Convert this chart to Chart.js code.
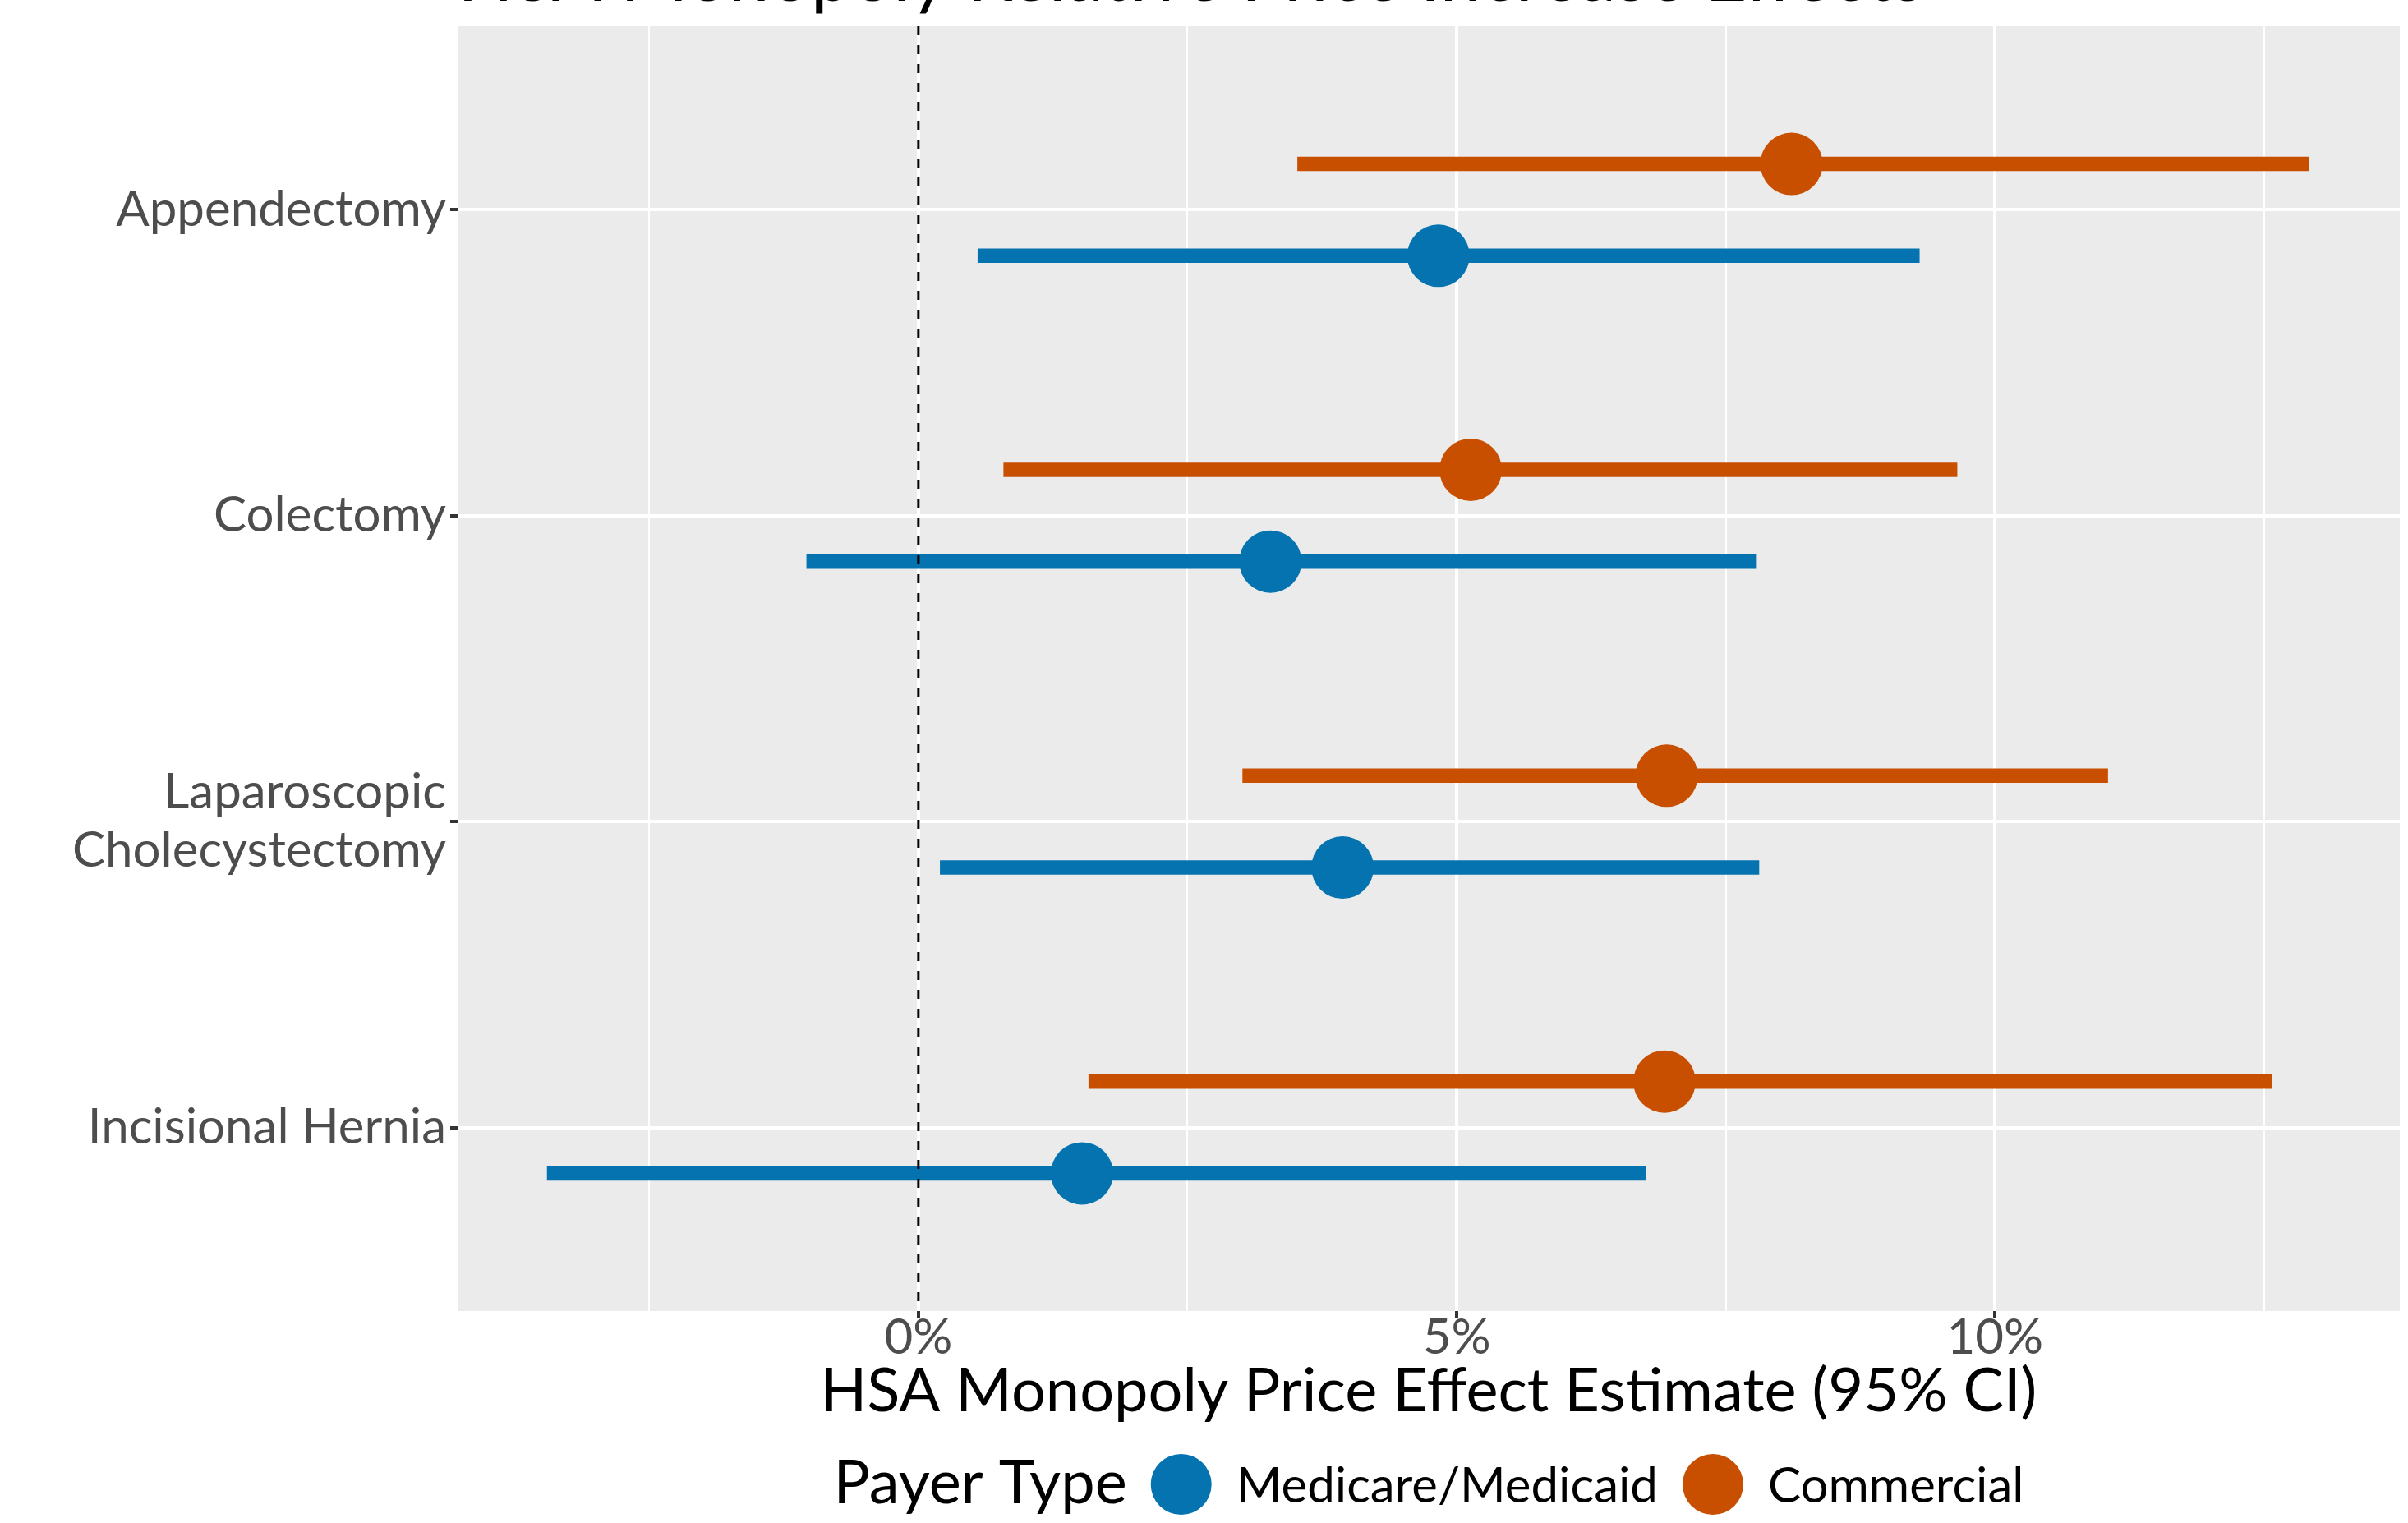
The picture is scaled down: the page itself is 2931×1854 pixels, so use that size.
<!DOCTYPE html>
<html>
<head>
<meta charset="utf-8">
<title>HSA Monopoly Relative Price Increase Effects</title>
<script src="https://cdn.jsdelivr.net/npm/chart.js@4.4.1/dist/chart.umd.min.js"></script>
<style>
  html, body { margin: 0; padding: 0; background: #ffffff; }
  #wrap { width: 2931px; height: 1854px; position: relative; overflow: hidden; }
  canvas { display: block; }
</style>
</head>
<body>
<div id="wrap"><canvas id="chart" width="2931" height="1854"></canvas></div>
<script>
// Procedures shown on the vertical axis (top to bottom)
const categories = ['Appendectomy', 'Colectomy', ['Laparoscopic', 'Cholecystectomy'], 'Incisional Hernia'];

// Price effect estimates and 95% confidence bounds, in percent
const medicareEstimate = [4.83, 3.27, 3.94, 1.52];
const medicareLower    = [0.55, -1.04, 0.20, -3.45];
const medicareUpper    = [9.30, 7.78, 7.81, 6.76];

const commercialEstimate = [8.11, 5.13, 6.95, 6.93];
const commercialLower    = [3.52, 0.79, 3.01, 1.58];
const commercialUpper    = [12.92, 9.65, 11.05, 12.57];

// Axis ticks
const xMajorTicks = [0, 5, 10];
const xMinorTicks = [-2.5, 2.5, 7.5, 12.5];
const referenceLine = 0;

const chartTitle = 'HSA Monopoly Relative Price Increase Effects';
const xAxisTitle = 'HSA Monopoly Price Effect Estimate (95% CI)';
const legendTitle = 'Payer Type';

// Axis ranges
const xMin = -4.28, xMax = 13.76;
const yMin = 0.4, yMax = 4.6;
const dodge = 0.15;

const FONT = 'Lato';
const BASE = 74;
const SMALL = 60;
const TITLE = 89;

const series = [
  { label: 'Medicare/Medicaid', color: '#0473B0', est: medicareEstimate, lo: medicareLower, hi: medicareUpper, shift: dodge },
  { label: 'Commercial', color: '#C84F00', est: commercialEstimate, lo: commercialLower, hi: commercialUpper, shift: -dodge }
];

const isMajor = v => xMajorTicks.includes(v);

const datasets = [];

// dashed reference line at zero, drawn above everything else
datasets.push({
  type: 'line',
  label: 'zero',
  data: [{ x: referenceLine, y: yMin }, { x: referenceLine, y: yMax }],
  borderColor: '#000000',
  borderWidth: 3,
  borderDash: [11, 12],
  pointRadius: 0,
  order: 0
});

// point estimates
series.forEach(s => {
  datasets.push({
    type: 'scatter',
    label: s.label,
    data: s.est.map((v, i) => ({ x: v, y: i + 1 + s.shift })),
    backgroundColor: s.color,
    borderWidth: 0,
    pointRadius: 38,
    pointHoverRadius: 38,
    order: 1
  });
});

// confidence interval segments
series.forEach(s => {
  s.lo.forEach((lo, i) => {
    datasets.push({
      type: 'line',
      label: s.label + ' CI',
      data: [{ x: lo, y: i + 1 + s.shift }, { x: s.hi[i], y: i + 1 + s.shift }],
      borderColor: s.color,
      borderWidth: 17.5,
      borderCapStyle: 'butt',
      pointRadius: 0,
      order: 2
    });
  });
});

// grey panel behind the plotting area
const panelBackground = {
  id: 'panelBackground',
  beforeDraw(chart) {
    const { ctx, chartArea: a } = chart;
    ctx.save();
    ctx.fillStyle = '#EBEBEB';
    ctx.fillRect(a.left, a.top, a.right - a.left, a.bottom - a.top);
    ctx.restore();
  }
};

// title, left aligned with the panel
const plotTitle = {
  id: 'plotTitle',
  afterDraw(chart) {
    const { ctx, chartArea: a } = chart;
    ctx.save();
    ctx.font = `${TITLE}px ${FONT}`;
    ctx.fillStyle = '#000000';
    ctx.textAlign = 'left';
    ctx.textBaseline = 'alphabetic';
    ctx.fillText(chartTitle, a.left, 1);
    ctx.restore();
  }
};

// horizontal legend below the axis title
const payerLegend = {
  id: 'payerLegend',
  afterDraw(chart) {
    const { ctx, chartArea: a } = chart;
    ctx.save();
    ctx.textAlign = 'left';
    ctx.textBaseline = 'alphabetic';
    ctx.font = `${BASE}px ${FONT}`;
    const tw = ctx.measureText(legendTitle).width;
    ctx.font = `${SMALL}px ${FONT}`;
    const iw = series.map(s => ctx.measureText(s.label).width);
    const r = 37, gapTitle = 29, gapKey = 30, gapItem = 30;
    const total = tw + gapTitle + iw.reduce((acc, w) => acc + 2 * r + gapKey + w, 0) + gapItem * (series.length - 1);
    let x = (a.left + a.right) / 2 - total / 2;
    const baseline = 1829, cy = 1807;
    ctx.fillStyle = '#000000';
    ctx.font = `${BASE}px ${FONT}`;
    ctx.fillText(legendTitle, x, baseline + 1);
    x += tw + gapTitle;
    ctx.font = `${SMALL}px ${FONT}`;
    series.forEach((s, i) => {
      ctx.fillStyle = s.color;
      ctx.beginPath();
      ctx.arc(x + r, cy, r, 0, Math.PI * 2);
      ctx.fill();
      x += 2 * r + gapKey;
      ctx.fillStyle = '#000000';
      ctx.fillText(s.label, x, baseline);
      x += iw[i] + gapItem;
    });
    ctx.restore();
  }
};

new Chart(document.getElementById('chart'), {
  type: 'scatter',
  data: { datasets },
  plugins: [panelBackground, plotTitle, payerLegend],
  options: {
    responsive: false,
    animation: false,
    devicePixelRatio: 1,
    layout: { autoPadding: false, padding: { left: 0, right: 10, top: 32, bottom: 0 } },
    plugins: {
      legend: { display: false },
      tooltip: { enabled: false },
      title: { display: false }
    },
    scales: {
      x: {
        type: 'linear',
        min: xMin,
        max: xMax,
        afterBuildTicks: scale => {
          scale.ticks = [...xMinorTicks, ...xMajorTicks].sort((p, q) => p - q).map(v => ({ value: v }));
        },
        afterFit: scale => {
          scale.height = 258;
          scale.paddingLeft = 0;
          scale.paddingRight = 0;
        },
        border: { display: false },
        grid: {
          color: '#FFFFFF',
          lineWidth: c => (isMajor(c.tick.value) ? 4 : 2),
          drawTicks: true,
          tickLength: 9,
          tickWidth: 4,
          tickColor: c => (isMajor(c.tick.value) ? '#333333' : 'rgba(0,0,0,0)')
        },
        ticks: {
          autoSkip: false,
          maxRotation: 0,
          padding: -12,
          color: '#4D4D4D',
          font: { family: FONT, size: SMALL },
          callback: v => (isMajor(v) ? v + '%' : '')
        },
        title: {
          display: true,
          text: xAxisTitle,
          color: '#000000',
          font: { family: FONT, size: BASE },
          padding: { top: 0, bottom: 115 }
        }
      },
      y: {
        type: 'linear',
        min: yMin,
        max: yMax,
        reverse: true,
        afterBuildTicks: scale => {
          scale.ticks = categories.map((c, i) => ({ value: i + 1 }));
        },
        afterFit: scale => {
          scale.width = 557;
          scale.paddingTop = 0;
          scale.paddingBottom = 0;
        },
        border: { display: false },
        grid: {
          color: '#FFFFFF',
          lineWidth: 4,
          drawTicks: true,
          tickLength: 9,
          tickWidth: 4,
          tickColor: '#333333'
        },
        ticks: {
          autoSkip: false,
          padding: 5,
          color: '#4D4D4D',
          font: { family: FONT, size: SMALL, lineHeight: 1.183 },
          callback: v => categories[v - 1]
        }
      }
    }
  }
});
</script>
</body>
</html>
